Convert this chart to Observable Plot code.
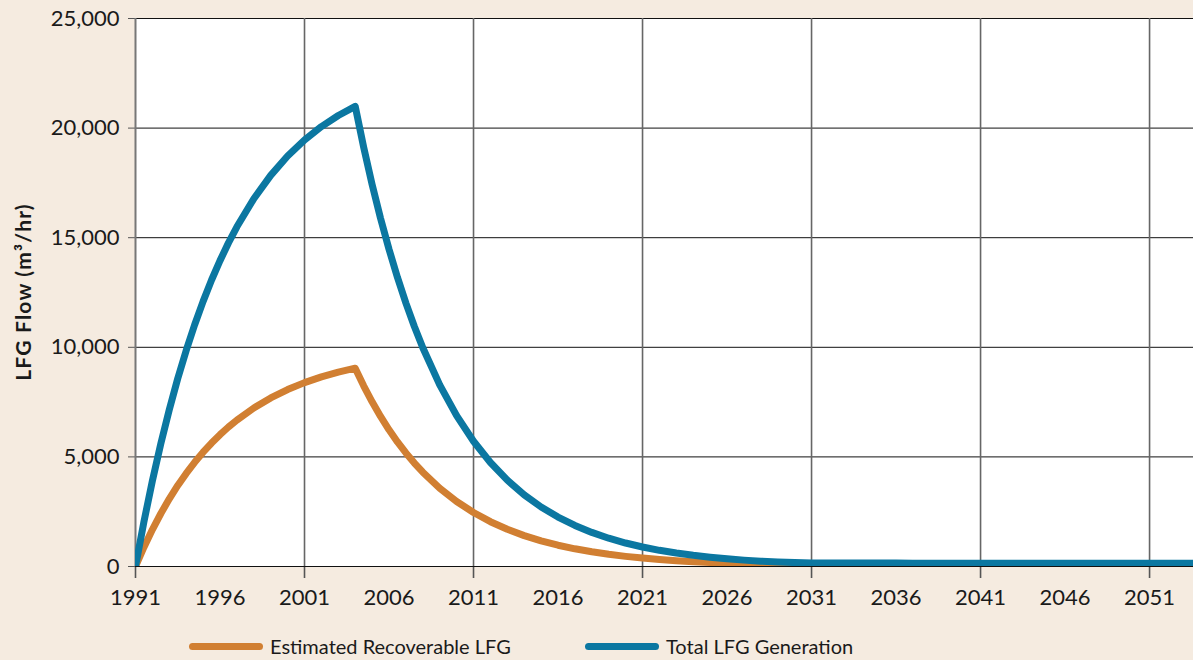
<!DOCTYPE html>
<html><head><meta charset="utf-8">
<script src="https://cdn.jsdelivr.net/npm/d3@7"></script>
<script src="https://cdn.jsdelivr.net/npm/@observablehq/plot@0.6"></script>
<style>
html,body{margin:0;padding:0;background:#f5ebe0;}
#wrap{position:relative;width:1193px;height:660px;overflow:hidden;font-family:Lato,"Open Sans",sans-serif;color:#1a1a1a;}
#chart svg{display:block;}
#ylabel{position:absolute;left:22px;top:292px;transform:translate(-50%,-50%) rotate(-90deg);white-space:nowrap;font-weight:bold;font-size:21px;letter-spacing:1.2px;}
.leg{position:absolute;top:634px;height:24px;display:flex;align-items:center;font-size:20px;line-height:24px;white-space:nowrap;}
.sw{width:74px;height:7px;border-radius:4px;margin-right:7px;}
</style></head>
<body><div id="wrap"><div id="chart"></div>
<div id="ylabel">LFG Flow (m³/hr)</div>
<div class="leg" style="left:189px"><div class="sw" style="background:#d17f32"></div><span>Estimated Recoverable LFG</span></div>
<div class="leg" style="left:585px"><div class="sw" style="background:#0b77a1"></div><span>Total LFG Generation</span></div>
</div>
<script>
const years = [1991,1991.5,1992,1992.5,1993,1993.5,1994,1994.5,1995,1995.5,1996,1996.5,1997,1998,1999,2000,2001,2002,2003,2004,2004.5,2005,2005.5,2006,2006.5,2007,2007.5,2008,2009,2010,2011,2012,2013,2014,2015,2016,2017,2018,2019,2020,2021,2022,2023,2024,2025,2026,2027,2028,2029,2030,2031,2032,2033,2034,2035,2036,2037,2038,2039,2040,2041,2042,2043,2044,2045,2046,2047,2048,2049,2050,2051,2052,2053,2054];
const totalLFG = [0,2047,3912,5611,7159,8575,9856,11029,12094,13070,13954,14764,15497,16778,17843,18726,19461,20070,20575,20994,19130,17431,15882,14473,13188,12017,10948,9978,8284,6880,5712,4743,3938,3269,2715,2254,1872,1554,1290,1071,889,738,613,509,423,351,291,242,205,180,165,160,158,156,155,154,153,152,151,150,150,150,150,150,150,150,150,150,150,150,150,150,150,150];
const recoverableLFG = [0,882,1686,2418,3086,3696,4248,4754,5213,5633,6014,6363,6679,7231,7690,8071,8388,8650,8868,9048,8245,7513,6845,6238,5684,5179,4719,4301,3570,2965,2462,2044,1697,1409,1170,971,807,670,556,462,383,318,264,219,182,151,125,104,87,72,60,50,42,35,29,24,20,17,14,12,10,8,7,6,5,4,3,3,2,2,2,1,1,1];
const xLabelTicks = [1991,1996,2001,2006,2011,2016,2021,2026,2031,2036,2041,2046,2051];
const xMajorTicks = [1991,2001,2011,2021,2031,2041,2051];
const yTicks = [0,5000,10000,15000,20000,25000];
const colors = {recoverable:"#d17f32", total:"#0b77a1"};

const total = years.map((y,i)=>({year:y, value:totalLFG[i]}));
const recov = years.map((y,i)=>({year:y, value:recoverableLFG[i]}));

const plot = Plot.plot({
  width:1193, height:620,
  marginLeft:135, marginRight:0, marginTop:18, marginBottom:54,
  style:{background:"transparent", fontFamily:"Lato, 'Open Sans', sans-serif", fontSize:"22px", color:"#1a1a1a"},
  x:{domain:[1991,2053.6]},
  y:{domain:[0,25000]},
  marks:[
    Plot.frame({fill:"white", stroke:null}),
    Plot.ruleY(yTicks.slice(1), {stroke:"#111", strokeWidth:1}),
    Plot.ruleX(xMajorTicks.slice(1), {stroke:"#666", strokeWidth:1.6}),
    Plot.axisX(xMajorTicks, {tickSize:12, text:null, stroke:"#555", strokeWidth:1.6, label:null}),
    Plot.axisX(xLabelTicks, {tickSize:0, tickPadding:23, tickFormat:d=>String(d), label:null, fontSize:22}),
    Plot.axisY(yTicks, {tickSize:7, tickPadding:9, tickFormat:d3.format(","), label:null, fontSize:22, stroke:"#555"}),
    Plot.ruleX([1991], {stroke:"#777", strokeWidth:2}),
    Plot.ruleY([0], {stroke:"#111", strokeWidth:1.2}),
    Plot.line(recov, {x:"year", y:"value", stroke:colors.recoverable, strokeWidth:7, clip:true}),
    Plot.line(total, {x:"year", y:"value", stroke:colors.total, strokeWidth:7, clip:true})
  ]
});
document.getElementById("chart").appendChild(plot);
</script>
</body></html>
